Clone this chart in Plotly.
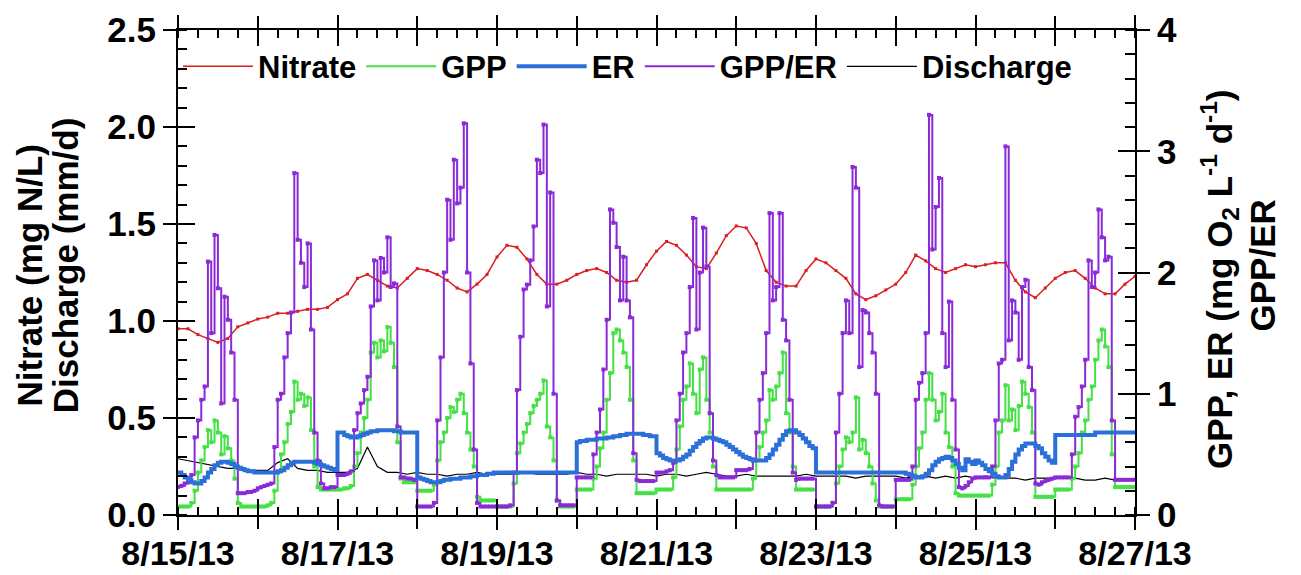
import pandas as pd
import plotly.graph_objects as go

# ---------------- data ----------------
# 3-hourly series (left axis)
nitrate = [0.96,0.96,0.93,0.91,0.89,0.91,0.97,0.99,1.01,1.02,
           1.04,1.04,1.05,1.06,1.06,1.07,1.11,1.14,1.22,1.24,
           1.21,1.18,1.17,1.22,1.27,1.26,1.24,1.21,1.17,1.15,
           1.19,1.24,1.33,1.39,1.38,1.32,1.24,1.19,1.19,1.21,
           1.24,1.26,1.27,1.25,1.21,1.20,1.21,1.29,1.36,1.41,
           1.39,1.34,1.28,1.27,1.35,1.44,1.49,1.48,1.40,1.26,
           1.20,1.18,1.18,1.26,1.32,1.30,1.26,1.22,1.14,1.11,
           1.13,1.16,1.19,1.25,1.34,1.31,1.27,1.25,1.27,1.29,
           1.28,1.29,1.30,1.30,1.21,1.15,1.12,1.17,1.22,1.25,
           1.26,1.22,1.17,1.14,1.14,1.19,1.23]
discharge = [0.29,0.28,0.27,0.26,0.25,0.24,0.24,0.23,0.23,0.23,
             0.27,0.29,0.24,0.23,0.23,0.22,0.22,0.22,0.24,0.35,
             0.25,0.22,0.22,0.21,0.22,0.21,0.21,0.20,0.21,0.21,
             0.22,0.21,0.21,0.21,0.21,0.22,0.21,0.21,0.21,0.21,
             0.22,0.21,0.21,0.20,0.21,0.21,0.21,0.21,0.20,0.21,
             0.21,0.20,0.21,0.22,0.21,0.20,0.20,0.21,0.20,0.20,
             0.20,0.20,0.20,0.21,0.20,0.20,0.20,0.20,0.19,0.20,
             0.20,0.20,0.20,0.19,0.20,0.20,0.19,0.20,0.19,0.20,
             0.19,0.20,0.19,0.19,0.19,0.18,0.19,0.19,0.19,0.19,
             0.19,0.18,0.18,0.19,0.18,0.18,0.18]

# hourly series (right axis), one list of 24 values per day
gpp_er_by_day = [
    [0.23,0.24,0.26,0.27,0.33,0.64,0.78,0.95,1.06,2.09,1.50,2.31,1.87,0.92,1.80,1.61,1.34,0.95,0.18,0.18,0.18,0.19,0.19,0.20],
    [0.22,0.23,0.24,0.25,0.26,0.56,0.95,1.00,1.30,1.50,1.67,2.82,2.27,2.08,1.88,2.24,1.53,0.68,0.45,0.26,0.22,0.22,0.23,0.23],
    [0.33,0.33,0.33,0.34,0.36,0.70,0.84,0.92,1.03,1.14,1.72,2.10,1.77,2.12,2.00,2.29,1.88,1.91,0.73,0.31,0.31,0.30,0.30,0.29],
    [0.07,0.07,0.07,0.07,0.07,0.10,0.78,1.30,2.00,2.60,2.27,2.93,2.57,2.70,3.23,2.00,1.25,0.54,0.10,0.07,0.07,0.07,0.07,0.07],
    [0.07,0.07,0.07,0.07,0.08,0.35,1.03,1.47,1.86,1.90,2.10,2.38,2.93,2.82,3.22,1.72,2.66,1.00,0.12,0.08,0.08,0.08,0.08,0.08],
    [0.31,0.31,0.31,0.31,0.31,0.50,0.68,0.87,1.20,1.61,2.52,2.41,2.21,1.77,2.13,1.77,1.63,0.51,0.29,0.28,0.28,0.28,0.28,0.28],
    [0.35,0.35,0.35,0.36,0.37,0.43,0.78,1.00,1.34,1.50,1.88,2.45,1.53,2.00,2.37,2.05,0.84,0.45,0.33,0.31,0.31,0.31,0.31,0.31],
    [0.37,0.37,0.37,0.37,0.38,0.45,0.68,0.95,1.17,1.50,2.49,1.77,1.88,2.49,1.61,1.44,0.95,0.35,0.29,0.30,0.30,0.30,0.30,0.30],
    [0.07,0.07,0.07,0.07,0.07,0.10,0.68,1.00,1.50,1.77,1.50,2.87,2.70,1.22,1.69,1.67,1.50,1.34,1.00,0.08,0.07,0.07,0.07,0.07],
    [0.29,0.29,0.29,0.29,0.29,0.40,0.95,1.09,1.17,1.50,3.30,2.19,2.54,2.78,1.50,1.22,1.76,0.95,0.54,0.23,0.22,0.24,0.27,0.30],
    [0.31,0.31,0.31,0.31,0.31,0.40,0.78,1.25,1.28,3.04,1.44,1.77,1.67,1.28,1.88,1.94,1.22,1.03,0.26,0.25,0.27,0.28,0.29,0.30],
    [0.31,0.31,0.31,0.31,0.31,0.50,0.81,0.89,1.06,1.28,2.10,1.88,2.00,2.52,2.29,2.10,2.13,0.78,0.29,0.29,0.29,0.29,0.29,0.29],
]
gpp_er_end = 0.29

gpp_by_day = [
    [0.07,0.07,0.07,0.07,0.10,0.20,0.35,0.45,0.56,0.70,0.60,0.78,0.68,0.50,0.65,0.55,0.45,0.30,0.10,0.07,0.07,0.07,0.07,0.07],
    [0.07,0.07,0.07,0.08,0.10,0.20,0.35,0.50,0.60,0.75,0.85,1.10,0.95,1.00,0.90,0.97,0.70,0.40,0.23,0.21,0.21,0.21,0.21,0.21],
    [0.21,0.21,0.22,0.22,0.24,0.40,0.51,0.68,0.80,0.95,1.34,1.42,1.30,1.44,1.35,1.55,1.42,1.22,0.60,0.30,0.27,0.27,0.27,0.27],
    [0.20,0.20,0.20,0.20,0.20,0.25,0.45,0.60,0.68,0.80,0.89,0.85,0.95,1.00,0.84,0.68,0.54,0.40,0.15,0.12,0.12,0.12,0.12,0.12],
    [0.07,0.07,0.07,0.07,0.07,0.26,0.51,0.59,0.68,0.75,0.84,0.90,0.95,1.00,1.11,0.73,0.64,0.45,0.12,0.07,0.07,0.07,0.07,0.07],
    [0.21,0.21,0.21,0.21,0.21,0.30,0.40,0.55,0.68,0.95,1.17,1.50,1.53,1.44,1.34,1.22,0.95,0.45,0.18,0.18,0.18,0.18,0.18,0.18],
    [0.21,0.21,0.21,0.21,0.21,0.31,0.54,0.73,0.95,1.06,1.25,1.00,0.84,1.20,1.30,0.95,0.68,0.40,0.21,0.21,0.21,0.21,0.21,0.21],
    [0.21,0.21,0.21,0.21,0.21,0.30,0.45,0.56,0.68,0.78,1.03,0.95,1.06,1.17,1.34,0.84,0.68,0.40,0.21,0.21,0.21,0.21,0.21,0.21],
    [0.07,0.07,0.07,0.07,0.07,0.10,0.26,0.40,0.54,0.64,0.60,0.68,0.97,0.54,0.62,0.51,0.40,0.26,0.12,0.07,0.07,0.07,0.07,0.07],
    [0.13,0.13,0.13,0.13,0.13,0.25,0.40,0.55,0.68,0.95,1.17,0.95,0.78,0.85,1.00,0.68,0.56,0.40,0.18,0.16,0.16,0.16,0.16,0.16],
    [0.16,0.16,0.16,0.16,0.16,0.25,0.40,0.68,0.78,1.07,0.78,0.87,0.70,0.90,1.10,1.00,0.89,0.68,0.15,0.15,0.15,0.15,0.15,0.15],
    [0.21,0.21,0.21,0.21,0.21,0.30,0.40,0.51,0.68,0.78,0.95,1.06,1.28,1.44,1.53,1.39,1.22,0.50,0.23,0.23,0.23,0.23,0.23,0.23],
]
gpp_end = 0.23

er_by_day = [
    [0.35,0.33,0.31,0.29,0.27,0.26,0.26,0.28,0.31,0.35,0.38,0.41,0.43,0.44,0.44,0.43,0.42,0.40,0.39,0.38,0.37,0.36,0.36,0.35],
    [0.35,0.35,0.35,0.35,0.35,0.35,0.36,0.37,0.39,0.41,0.43,0.44,0.44,0.44,0.44,0.44,0.44,0.43,0.42,0.41,0.40,0.39,0.38,0.37],
    [0.68,0.68,0.66,0.65,0.64,0.64,0.65,0.66,0.67,0.68,0.69,0.69,0.70,0.70,0.70,0.70,0.70,0.69,0.69,0.68,0.68,0.68,0.68,0.68],
    [0.31,0.30,0.29,0.28,0.27,0.27,0.27,0.28,0.29,0.29,0.30,0.30,0.30,0.31,0.31,0.31,0.32,0.32,0.33,0.33,0.33,0.34,0.34,0.35],
    [0.35,0.35,0.35,0.35,0.35,0.35,0.35,0.35,0.35,0.35,0.35,0.35,0.35,0.35,0.35,0.35,0.35,0.35,0.35,0.35,0.35,0.35,0.35,0.35],
    [0.60,0.61,0.61,0.62,0.62,0.62,0.63,0.63,0.63,0.64,0.64,0.65,0.65,0.66,0.66,0.67,0.67,0.67,0.67,0.67,0.66,0.66,0.65,0.65],
    [0.51,0.49,0.47,0.46,0.45,0.45,0.45,0.46,0.48,0.50,0.53,0.56,0.59,0.61,0.63,0.64,0.64,0.63,0.62,0.61,0.60,0.58,0.56,0.54],
    [0.52,0.50,0.48,0.47,0.46,0.45,0.45,0.45,0.45,0.47,0.50,0.54,0.58,0.62,0.66,0.69,0.70,0.70,0.68,0.66,0.63,0.60,0.57,0.55],
    [0.35,0.35,0.35,0.35,0.35,0.35,0.35,0.35,0.35,0.35,0.35,0.35,0.35,0.35,0.35,0.35,0.35,0.35,0.35,0.35,0.35,0.35,0.35,0.35],
    [0.35,0.35,0.35,0.34,0.33,0.32,0.31,0.31,0.32,0.34,0.37,0.41,0.44,0.46,0.47,0.48,0.47,0.45,0.42,0.39,0.37,0.46,0.44,0.42],
    [0.45,0.43,0.41,0.38,0.36,0.34,0.32,0.31,0.31,0.33,0.38,0.44,0.50,0.54,0.57,0.59,0.59,0.59,0.57,0.55,0.51,0.48,0.45,0.43],
    [0.66,0.66,0.66,0.66,0.66,0.66,0.66,0.66,0.66,0.66,0.66,0.66,0.68,0.68,0.68,0.68,0.68,0.68,0.68,0.68,0.68,0.68,0.68,0.68],
]
er_end = 0.68

label_dates = pd.date_range("2013-08-15", "2013-08-27", freq="2D")
date_labels = ["8/15/13", "8/17/13", "8/19/13", "8/21/13", "8/23/13", "8/25/13", "8/27/13"]
day_ticks = pd.date_range("2013-08-15", "2013-08-27", freq="1D")
left_ticks = [0.0, 0.5, 1.0, 1.5, 2.0, 2.5]
right_ticks = [0, 1, 2, 3, 4]

# ---------------- build ----------------
t3 = pd.date_range("2013-08-15 00:00", "2013-08-27 00:00", freq="3h")
t1 = pd.date_range("2013-08-15 00:00", "2013-08-27 00:00", freq="1h")

def flat(days, end):
    out = []
    for d in days:
        out.extend(d)
    out.append(end)
    return out

gpp = flat(gpp_by_day, gpp_end)
gpp_er = flat(gpp_er_by_day, gpp_er_end)
er = flat(er_by_day, er_end)

FONT = "Liberation Sans, Arial, Helvetica, sans-serif"
C_RED = "#dc1e1e"
C_GREEN = "#45e045"
C_BLUE = "#2b6fd8"
C_PURPLE = "#8a2ad6"

fig = go.Figure()
fig.add_trace(go.Scatter(x=t3, y=nitrate, name="Nitrate", mode="lines",
                         line=dict(color=C_RED, width=1.5), legendrank=1))
fig.add_trace(go.Scatter(x=t3, y=nitrate, mode="markers", showlegend=False, hoverinfo="skip",
                         marker=dict(color=C_RED, size=3, symbol="square")))
fig.add_trace(go.Scatter(x=t1, y=gpp, name="GPP", mode="lines", yaxis="y2",
                         line=dict(color=C_GREEN, width=2, shape="hv"), legendrank=2))
fig.add_trace(go.Scatter(x=t1, y=gpp, mode="markers", yaxis="y2", showlegend=False,
                         hoverinfo="skip", marker=dict(color=C_GREEN, size=4, symbol="square")))
fig.add_trace(go.Scatter(x=t1, y=gpp_er, name="GPP/ER", mode="lines", yaxis="y2",
                         line=dict(color=C_PURPLE, width=2, shape="hv"), legendrank=4))
fig.add_trace(go.Scatter(x=t1, y=gpp_er, mode="markers", yaxis="y2", showlegend=False,
                         hoverinfo="skip", marker=dict(color=C_PURPLE, size=4, symbol="square")))
fig.add_trace(go.Scatter(x=t1, y=er, name="ER", mode="lines", yaxis="y2",
                         line=dict(color=C_BLUE, width=4, shape="hv"), legendrank=3))
fig.add_trace(go.Scatter(x=t3, y=discharge, name="Discharge", mode="lines",
                         line=dict(color="black", width=1.2), legendrank=5))
# carrier traces for the extra tick-only overlay axes
fig.add_trace(go.Scatter(x=[None], y=[None], xaxis="x2", yaxis="y3",
                         showlegend=False, hoverinfo="skip"))
fig.add_trace(go.Scatter(x=[None], y=[None], xaxis="x3", yaxis="y4",
                         showlegend=False, hoverinfo="skip"))

xr = ["2013-08-15", "2013-08-27"]
tick_font = dict(family=FONT, size=35, color="black", weight="bold")
xtick_font = dict(family=FONT, size=34, color="black", weight="bold")

fig.update_layout(
    width=1301, height=575,
    margin=dict(l=178, r=166, t=30, b=60, autoexpand=False),
    paper_bgcolor="white", plot_bgcolor="white",
    font=dict(family=FONT, size=32, color="black", weight="bold"),
    legend=dict(orientation="h", x=0.0, y=0.98, xanchor="left", yanchor="top",
                bgcolor="rgba(0,0,0,0)", font=dict(family=FONT, size=31, weight="bold"),
                traceorder="normal", itemwidth=70),
    # labelled axis (every 2 days) with 6-hour inner minor ticks
    xaxis=dict(type="date", range=xr, tickmode="array", tickvals=label_dates, ticktext=date_labels,
               ticks="outside", ticklen=13, tickwidth=2, tickcolor="black", automargin=False,
               ticklabelstandoff=-6,
               showline=True, linewidth=2, linecolor="black", mirror="ticks",
               showgrid=False, zeroline=False, tickfont=xtick_font,
               minor=dict(tick0="2013-08-15", dtick=6 * 3600 * 1000, ticks="inside",
                          ticklen=8, tickwidth=1.5, tickcolor="black", showgrid=False)),
    # daily major ticks: inner part
    xaxis2=dict(type="date", range=xr, overlaying="x", anchor="y", tickmode="array",
                tickvals=day_ticks, ticks="inside", ticklen=16, tickwidth=2, tickcolor="black",
                showticklabels=False, showline=False, mirror="ticks", showgrid=False,
                zeroline=False, automargin=False),
    # daily major ticks: outer part
    xaxis3=dict(type="date", range=xr, overlaying="x", anchor="y", tickmode="array",
                tickvals=day_ticks, ticks="outside", ticklen=13, tickwidth=2, tickcolor="black",
                showticklabels=False, showline=False, mirror="ticks", showgrid=False,
                zeroline=False, automargin=False),
    yaxis=dict(range=[0, 2.5], tickmode="array", tickvals=left_ticks,
               ticktext=["%.1f" % v for v in left_ticks], automargin=False,
               ticks="outside", ticklen=13, tickwidth=2, tickcolor="black",
               showline=True, linewidth=2, linecolor="black",
               showgrid=False, zeroline=False, tickfont=tick_font,
               minor=dict(dtick=0.1, ticks="inside", ticklen=9, tickwidth=1.5,
                          tickcolor="black", showgrid=False)),
    yaxis2=dict(range=[0, 4], overlaying="y", side="right", anchor="x", tickmode="array",
                tickvals=right_ticks, ticks="outside", ticklen=13, tickwidth=2, tickcolor="black",
                showline=True, linewidth=2, linecolor="black", automargin=False,
                showgrid=False, zeroline=False, tickfont=tick_font,
                minor=dict(dtick=0.2, ticks="inside", ticklen=10, tickwidth=1.5,
                           tickcolor="black", showgrid=False)),
    yaxis3=dict(range=[0, 2.5], overlaying="y", side="left", anchor="x", tickmode="array",
                tickvals=left_ticks, ticks="inside", ticklen=17, tickwidth=2, tickcolor="black",
                showticklabels=False, showline=False, showgrid=False, zeroline=False,
                automargin=False),
    yaxis4=dict(range=[0, 4], overlaying="y", side="right", anchor="x", tickmode="array",
                tickvals=right_ticks, ticks="inside", ticklen=17, tickwidth=2, tickcolor="black",
                showticklabels=False, showline=False, showgrid=False, zeroline=False,
                automargin=False),
)

title_font = dict(family=FONT, size=35, color="black", weight="bold")
fig.add_annotation(text="Nitrate (mg N/L)", xref="paper", yref="paper",
                   x=-0.155, y=0.495, textangle=-90, showarrow=False,
                   xanchor="center", yanchor="middle", font=title_font)
fig.add_annotation(text="Discharge (mm/d)", xref="paper", yref="paper",
                   x=-0.118, y=0.515, textangle=-90, showarrow=False,
                   xanchor="center", yanchor="middle", font=title_font)
fig.add_annotation(text="GPP, ER (mg O<sub>2</sub> L<sup>-1</sup> d<sup>-1</sup>)",
                   xref="paper", yref="paper", x=1.089, y=0.485, textangle=-90,
                   showarrow=False, xanchor="center", yanchor="middle", font=title_font)
fig.add_annotation(text="GPP/ER", xref="paper", yref="paper",
                   x=1.133, y=0.515, textangle=-90, showarrow=False,
                   xanchor="center", yanchor="middle", font=title_font)

fig.write_html("out.html", config={"displayModeBar": False},
               post_script="document.body.style.margin='0';")
